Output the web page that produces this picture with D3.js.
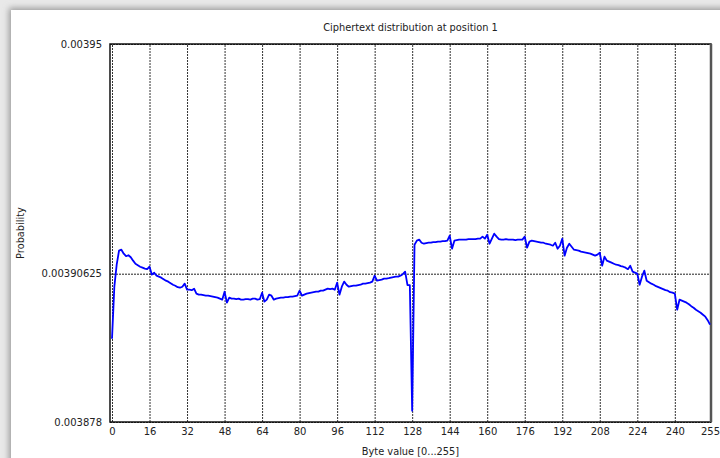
<!DOCTYPE html>
<html>
<head>
<meta charset="utf-8">
<script src="https://cdn.jsdelivr.net/npm/d3@7"></script>
<style>
  html, body { margin: 0; padding: 0; background: #e9e9e9; }
  svg { display: block; }
</style>
</head>
<body>
<svg class="chart"></svg>
<script>
// byte values 0..255 (x) and the measured probability for each
const bytes = d3.range(0, 256);
const prob = [
  0.00389387, 0.00390377, 0.00390796, 0.00391063, 0.00391082, 0.00391006, 0.00390958, 0.00390977,
  0.00390939, 0.00390873, 0.00390815, 0.00390787, 0.00390758, 0.00390739, 0.00390720, 0.00390711,
  0.00390758, 0.00390606, 0.00390644, 0.00390587, 0.00390568, 0.00390549, 0.00390520, 0.00390492,
  0.00390473, 0.00390444, 0.00390415, 0.00390396, 0.00390368, 0.00390358, 0.00390377, 0.00390435,
  0.00390320, 0.00390320, 0.00390311, 0.00390339, 0.00390244, 0.00390225, 0.00390225, 0.00390215,
  0.00390206, 0.00390206, 0.00390196, 0.00390187, 0.00390177, 0.00390168, 0.00390149, 0.00390130,
  0.00390282, 0.00390073, 0.00390168, 0.00390149, 0.00390149, 0.00390139, 0.00390149, 0.00390130,
  0.00390130, 0.00390139, 0.00390139, 0.00390130, 0.00390149, 0.00390149, 0.00390130, 0.00390139,
  0.00390263, 0.00390092, 0.00390130, 0.00390225, 0.00390206, 0.00390130, 0.00390149, 0.00390158,
  0.00390168, 0.00390168, 0.00390177, 0.00390177, 0.00390187, 0.00390187, 0.00390196, 0.00390206,
  0.00390301, 0.00390206, 0.00390225, 0.00390244, 0.00390254, 0.00390263, 0.00390273, 0.00390282,
  0.00390282, 0.00390301, 0.00390301, 0.00390320, 0.00390339, 0.00390330, 0.00390339, 0.00390320,
  0.00390454, 0.00390225, 0.00390377, 0.00390473, 0.00390415, 0.00390377, 0.00390387, 0.00390396,
  0.00390396, 0.00390406, 0.00390415, 0.00390435, 0.00390435, 0.00390444, 0.00390454, 0.00390473,
  0.00390587, 0.00390492, 0.00390501, 0.00390511, 0.00390530, 0.00390530, 0.00390539, 0.00390549,
  0.00390558, 0.00390568, 0.00390568, 0.00390587, 0.00390615, 0.00390663, 0.00390406, 0.00390406,
  0.00388015, 0.00391177, 0.00391254, 0.00391273, 0.00391215, 0.00391196, 0.00391206, 0.00391215,
  0.00391215, 0.00391225, 0.00391225, 0.00391235, 0.00391235, 0.00391244, 0.00391244, 0.00391254,
  0.00391349, 0.00391101, 0.00391254, 0.00391263, 0.00391273, 0.00391273, 0.00391273, 0.00391273,
  0.00391282, 0.00391282, 0.00391282, 0.00391282, 0.00391292, 0.00391292, 0.00391330, 0.00391292,
  0.00391368, 0.00391196, 0.00391292, 0.00391387, 0.00391330, 0.00391282, 0.00391273, 0.00391273,
  0.00391282, 0.00391273, 0.00391273, 0.00391273, 0.00391263, 0.00391273, 0.00391273, 0.00391273,
  0.00391330, 0.00391120, 0.00391235, 0.00391254, 0.00391244, 0.00391235, 0.00391225, 0.00391215,
  0.00391215, 0.00391196, 0.00391187, 0.00391177, 0.00391158, 0.00391215, 0.00391101, 0.00391158,
  0.00391292, 0.00390968, 0.00391120, 0.00391196, 0.00391139, 0.00391082, 0.00391073, 0.00391063,
  0.00391044, 0.00391035, 0.00391025, 0.00391015, 0.00391006, 0.00390987, 0.00390968, 0.00390987,
  0.00391025, 0.00390777, 0.00390949, 0.00390873, 0.00390854, 0.00390835, 0.00390815, 0.00390796,
  0.00390787, 0.00390768, 0.00390758, 0.00390739, 0.00390711, 0.00390777, 0.00390663, 0.00390644,
  0.00390625, 0.00390415, 0.00390568, 0.00390682, 0.00390492, 0.00390463, 0.00390435, 0.00390415,
  0.00390387, 0.00390368, 0.00390349, 0.00390330, 0.00390311, 0.00390301, 0.00390273, 0.00390263,
  0.00390244, 0.00389939, 0.00390130, 0.00390111, 0.00390092, 0.00390073, 0.00390044, 0.00390006,
  0.00389977, 0.00389939, 0.00389911, 0.00389882, 0.00389844, 0.00389806, 0.00389739, 0.00389654
];
const xTicks = [0, 16, 32, 48, 64, 80, 96, 112, 128, 144, 160, 176, 192, 208, 224, 240, 255];
const yTicks = [0.003878, 0.00390625, 0.00395];
const yTickLabels = ["0.003878", "0.00390625", "0.00395"];

const W = 720, H = 458;
const svg = d3.select(".chart").attr("width", W).attr("height", H);

// window shadow + white panel
const defs = svg.append("defs");
defs.append("filter").attr("id", "blur").append("feGaussianBlur").attr("stdDeviation", 3);
svg.append("rect").attr("x", 9).attr("y", 8).attr("width", W).attr("height", H)
    .attr("fill", "#9a9a9a").attr("filter", "url(#blur)");
svg.append("rect").attr("x", 11).attr("y", 10).attr("width", W).attr("height", H).attr("fill", "#fff");

const plotL = 110, plotR = 711, plotT = 44, plotB = 422;

const x = d3.scaleLinear().domain([0, 255]).range([112, 710]);
const y = d3.scaleLinear().domain([yTicks[0], yTicks[2]]).range([plotB, plotT]);

const font = "DejaVu Sans, sans-serif";

// vertical grid (dotted)
svg.append("g")
    .attr("transform", `translate(0,${plotB})`)
    .call(d3.axisBottom(x).tickValues(xTicks).tickSize(-(plotB - plotT)).tickPadding(6).tickFormat(d3.format("d")))
    .call(g => g.select(".domain").remove())
    .call(g => g.selectAll(".tick line")
        .attr("stroke", "#333").attr("stroke-width", 1).attr("stroke-dasharray", "2,1"))
    .call(g => g.selectAll(".tick text")
        .attr("fill", "#222").style("font-family", font).style("font-size", "10px"));

// horizontal line at 1/256 + y labels
svg.append("g")
    .attr("transform", `translate(${plotL},0)`)
    .call(d3.axisLeft(y).tickValues(yTicks).tickSize(-(plotR - plotL)).tickPadding(8)
        .tickFormat((d, i) => yTickLabels[i]))
    .call(g => g.select(".domain").remove())
    .call(g => g.selectAll(".tick line")
        .attr("stroke", "#222").attr("stroke-width", 1).attr("stroke-dasharray", "2,1"))
    .call(g => g.selectAll(".tick text")
        .attr("fill", "#222").style("font-family", font).style("font-size", "10px"));

// frame
svg.append("rect")
    .attr("x", plotL).attr("y", plotT).attr("width", plotR - plotL).attr("height", plotB - plotT)
    .attr("fill", "none").attr("stroke", "#111").attr("stroke-width", 1.5);
svg.append("line").attr("x1", plotR).attr("x2", plotR).attr("y1", plotT).attr("y2", plotB)
    .attr("stroke", "#555").attr("stroke-width", 2.5);

// data line
const line = d3.line().x((d, i) => x(bytes[i])).y(d => y(d));
svg.append("path")
    .datum(prob)
    .attr("d", line)
    .attr("fill", "none")
    .attr("stroke", "#0000ff")
    .attr("stroke-width", 1.8)
    .attr("stroke-linejoin", "round");

// title and axis labels
svg.append("text")
    .attr("x", (plotL + plotR) / 2).attr("y", 31)
    .attr("text-anchor", "middle")
    .style("font-family", font).style("font-size", "9.8px").attr("fill", "#222")
    .text("Ciphertext distribution at position 1");

svg.append("text")
    .attr("x", (plotL + plotR) / 2).attr("y", 455)
    .attr("text-anchor", "middle")
    .style("font-family", font).style("font-size", "9.8px").attr("fill", "#222")
    .text("Byte value [0...255]");

svg.append("text")
    .attr("transform", `translate(24,${(plotT + plotB) / 2}) rotate(-90)`)
    .attr("text-anchor", "middle")
    .style("font-family", font).style("font-size", "9.8px").attr("fill", "#222")
    .text("Probability");
</script>
</body>
</html>
